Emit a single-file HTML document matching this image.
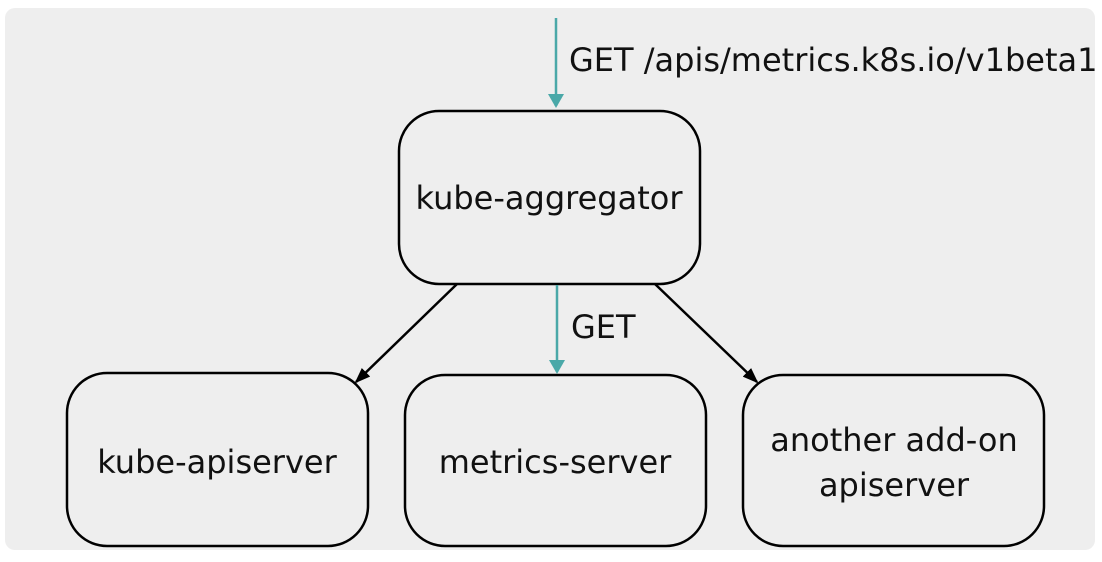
<!DOCTYPE html>
<html><head><style>
html,body{margin:0;padding:0;background:#fff;width:1102px;height:562px;overflow:hidden}
</style></head><body>
<svg width="1102" height="562" xmlns="http://www.w3.org/2000/svg" font-family="DejaVu Sans, sans-serif" font-size="32" fill="#111">
<defs>
<marker id="b" markerWidth="16" markerHeight="12" refX="14" refY="6" orient="auto" markerUnits="userSpaceOnUse"><path d="M0,0 L16,6 L0,12 z" fill="#000"/></marker>
</defs>
<rect x="5" y="8" width="1090" height="542" rx="10" fill="#eeeeee"/>
<g fill="none" stroke="#000" stroke-width="2.5">
<rect x="399" y="111" width="301" height="173" rx="40"/>
<rect x="67" y="373" width="301" height="173" rx="40"/>
<rect x="405" y="375" width="301" height="171" rx="40"/>
<rect x="743" y="375" width="301" height="171" rx="40"/>
</g>
<path d="M556,18 V106" stroke="#4aa8a8" stroke-width="2.5"/>
<path d="M548,94 L564,94 L556,108 z" fill="#4aa8a8"/>
<path d="M557,285 V372" stroke="#4aa8a8" stroke-width="2.5"/>
<path d="M549,360 L565,360 L557,374 z" fill="#4aa8a8"/>
<path d="M457,284 L356,382" stroke="#000" stroke-width="2.5" marker-end="url(#b)"/>
<path d="M655,284 L757,382" stroke="#000" stroke-width="2.5" marker-end="url(#b)"/>
<text x="569" y="71">GET /apis/metrics.k8s.io/v1beta1</text>
<text x="549" y="209" text-anchor="middle">kube-aggregator</text>
<text x="571" y="338">GET</text>
<text x="217" y="473" text-anchor="middle">kube-apiserver</text>
<text x="555" y="473" text-anchor="middle">metrics-server</text>
<text x="894" y="451" text-anchor="middle">another add-on</text>
<text x="894" y="496" text-anchor="middle">apiserver</text>
</svg>
</body></html>
